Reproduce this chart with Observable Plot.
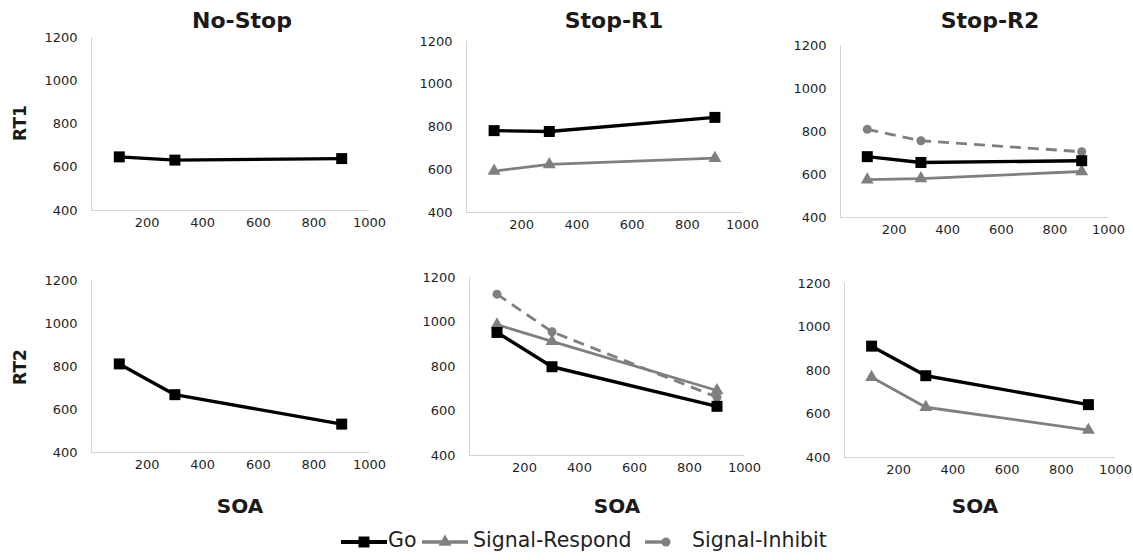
<!DOCTYPE html>
<html><head><meta charset="utf-8">
<script src="https://cdn.jsdelivr.net/npm/d3@7"></script>
<script src="https://cdn.jsdelivr.net/npm/@observablehq/plot@0.6"></script>
<style>
body{margin:0;background:#fff;}
#chart{position:relative;width:1133px;height:560px;overflow:hidden;font-family:"DejaVu Sans",sans-serif;color:#1a1a1a;background:#fff}
.panel{position:absolute}
.title{position:absolute;font-weight:bold;font-size:22px;line-height:1;transform:translateX(-50%);white-space:nowrap}
.xlab{position:absolute;font-weight:bold;font-size:20px;line-height:1;transform:translateX(-50%);white-space:nowrap}
.ylab{position:absolute;font-weight:bold;font-size:17px;line-height:1;transform:translate(-50%,-50%) rotate(-90deg);white-space:nowrap}
.lg{position:absolute;font-size:20.5px;line-height:1;white-space:nowrap;color:#1f1f1f}
.sw{position:absolute}
</style></head><body><div id="chart"></div>
<script>
// ---------- data ----------
const soa = [100, 300, 900];
const conditions = ["No-Stop", "Stop-R1", "Stop-R2"];
const measures = ["RT1", "RT2"];
const seriesNames = ["Go", "Signal-Respond", "Signal-Inhibit"];
const xTicks = [200, 400, 600, 800, 1000];
const yTicks = [400, 600, 800, 1000, 1200];
const xAxisLabel = "SOA";

// RT1 row
const rt1NoStopGo = [648, 633, 640];
const rt1StopR1Go = [783, 779, 845];
const rt1StopR1SR = [594, 625, 654];
const rt1StopR2Go = [683, 656, 664];
const rt1StopR2SR = [576, 581, 614];
const rt1StopR2SI = [810, 757, 706];
// RT2 row
const rt2NoStopGo = [812, 669, 532];
const rt2StopR1Go = [953, 799, 621];
const rt2StopR1SR = [988, 913, 692];
const rt2StopR1SI = [1125, 956, 662];
const rt2StopR2Go = [912, 776, 643];
const rt2StopR2SR = [769, 631, 526];

const panelSeries = [
  {row: 0, col: 0, series: {"Go": rt1NoStopGo}},
  {row: 0, col: 1, series: {"Go": rt1StopR1Go, "Signal-Respond": rt1StopR1SR}},
  {row: 0, col: 2, series: {"Go": rt1StopR2Go, "Signal-Respond": rt1StopR2SR, "Signal-Inhibit": rt1StopR2SI}},
  {row: 1, col: 0, series: {"Go": rt2NoStopGo}},
  {row: 1, col: 1, series: {"Go": rt2StopR1Go, "Signal-Respond": rt2StopR1SR, "Signal-Inhibit": rt2StopR1SI}},
  {row: 1, col: 2, series: {"Go": rt2StopR2Go, "Signal-Respond": rt2StopR2SR}}
];

// ---------- styles & layout ----------
const styles = {
  "Go": {stroke: "#000000", width: 3.4, dash: null, symbol: "square", r: 6.2},
  "Signal-Respond": {stroke: "#7f7f7f", width: 2.8, dash: null, symbol: "triangle", r: 4.8},
  "Signal-Inhibit": {stroke: "#7f7f7f", width: 2.8, dash: "11,7", symbol: "circle", r: 4.5}
};
const drawOrder = ["Signal-Inhibit", "Signal-Respond", "Go"];
const layout = [
  [{x0: 91, x1: 369, y0: 37, y1: 210}, {x0: 466, x1: 742, y0: 41, y1: 212}, {x0: 840, x1: 1108, y0: 45, y1: 217}],
  [{x0: 91, x1: 369, y0: 280, y1: 452}, {x0: 469, x1: 744, y0: 277, y1: 455}, {x0: 844, x1: 1115, y0: 283, y1: 457}]
];
const M = {l: 60, r: 26, t: 12, b: 30};
const axisGray = "#d4d4d4";
const tickColor = "#1f1f1f";

const chart = document.getElementById("chart");

function makePanel(p) {
  const L = layout[p.row][p.col];
  const marks = [
    Plot.ruleY([400], {stroke: axisGray, strokeWidth: 1}),
    Plot.ruleX([0], {stroke: axisGray, strokeWidth: 1}),
    Plot.axisX({ticks: xTicks, tickFormat: d3.format("d"), tickSize: 0, tickPadding: 7, label: null, fontSize: 13, color: tickColor}),
    Plot.axisY({ticks: yTicks, tickFormat: d3.format("d"), tickSize: 0, tickPadding: 14, label: null, fontSize: 13, color: tickColor})
  ];
  for (const name of drawOrder) {
    const vals = p.series[name];
    if (!vals) continue;
    const st = styles[name];
    const data = soa.map((s, i) => ({soa: s, rt: vals[i]}));
    marks.push(Plot.line(data, {x: "soa", y: "rt", stroke: st.stroke, strokeWidth: st.width,
      strokeDasharray: st.dash, strokeLinejoin: "round", strokeLinecap: "butt"}));
    marks.push(Plot.dot(data, {x: "soa", y: "rt", symbol: st.symbol, r: st.r, fill: st.stroke, stroke: "none"}));
  }
  const svg = Plot.plot({
    width: (L.x1 - L.x0) + M.l + M.r,
    height: (L.y1 - L.y0) + M.t + M.b,
    marginLeft: M.l, marginRight: M.r, marginTop: M.t, marginBottom: M.b,
    x: {domain: [0, 1000]},
    y: {domain: [400, 1200]},
    style: {fontFamily: "DejaVu Sans", fontSize: "13px", background: "transparent", overflow: "visible"},
    marks
  });
  svg.classList.add("panel");
  svg.style.left = (L.x0 - M.l) + "px";
  svg.style.top = (L.y0 - M.t) + "px";
  chart.appendChild(svg);
}
panelSeries.forEach(makePanel);

function addDiv(cls, text, left, top) {
  const d = document.createElement("div");
  d.className = cls; d.textContent = text;
  d.style.left = left + "px"; d.style.top = top + "px";
  chart.appendChild(d);
  return d;
}
// titles
const titleX = [242, 614, 990];
conditions.forEach((c, i) => addDiv("title", c, titleX[i], 10));
// x-axis labels
const soaX = [240, 617, 975];
soaX.forEach(x => addDiv("xlab", xAxisLabel, x, 496));
// row labels
const rowY = [123, 367];
measures.forEach((m, i) => addDiv("ylab", m, 20, rowY[i]));

// legend
const legendPos = [
  {sw: 341, text: 388},
  {sw: 422, text: 473},
  {sw: 642, text: 692}
];
const legendY = 542;
seriesNames.forEach((name, i) => {
  const st = styles[name];
  const ns = "http://www.w3.org/2000/svg";
  const svg = document.createElementNS(ns, "svg");
  svg.setAttribute("width", 48); svg.setAttribute("height", 20);
  svg.setAttribute("class", "sw");
  svg.style.left = legendPos[i].sw + "px"; svg.style.top = (legendY - 10) + "px";
  const ln = document.createElementNS(ns, "line");
  ln.setAttribute("x1", name === "Signal-Inhibit" ? 3 : 0); ln.setAttribute("x2", name === "Signal-Inhibit" ? 20 : 46);
  ln.setAttribute("y1", 10); ln.setAttribute("y2", 10);
  ln.setAttribute("stroke", st.stroke); ln.setAttribute("stroke-width", st.width + 0.6);
  svg.appendChild(ln);
  const sym = d3.symbol().type(name === "Go" ? d3.symbolSquare : name === "Signal-Respond" ? d3.symbolTriangle : d3.symbolCircle)
    .size(Math.PI * st.r * st.r);
  const path = document.createElementNS(ns, "path");
  path.setAttribute("d", sym());
  path.setAttribute("transform", `translate(${name === "Signal-Inhibit" ? 24 : 23},10)`);
  path.setAttribute("fill", st.stroke);
  svg.appendChild(path);
  chart.appendChild(svg);
  addDiv("lg", name, legendPos[i].text, legendY - 12);
});
</script></body></html>
